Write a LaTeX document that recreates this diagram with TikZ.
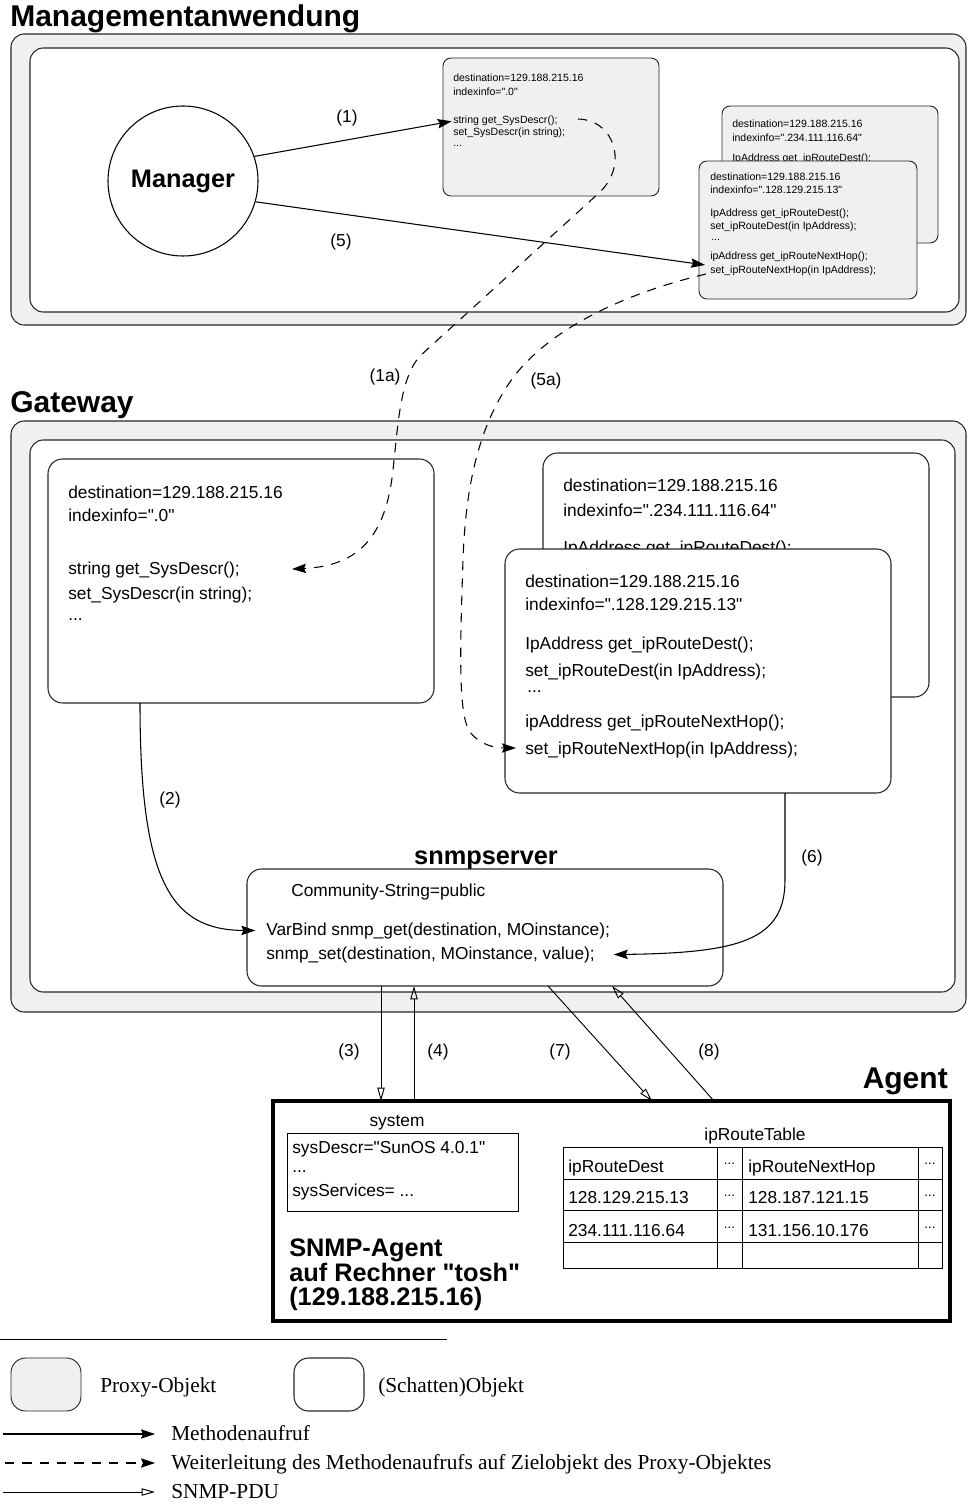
\documentclass[tikz,border=0pt]{standalone}
\usepackage{fontspec}
\setmainfont{Liberation Sans}
\newfontfamily\serifface{Liberation Serif}
\usetikzlibrary{arrows.meta,fit}
\definecolor{pgray}{RGB}{240,240,240}
% straight double quote
\newcommand{\dq}{\textquotedbl}

\begin{document}
\begin{tikzpicture}[x=0.75pt,y=-0.75pt,
  panel/.style={draw=black!85, fill=pgray, rounded corners=10pt, inner sep=0pt, outer sep=0pt, line width=0.8pt},
  area/.style={draw=black!85, fill=white, rounded corners=10pt, inner sep=0pt, outer sep=0pt, line width=0.8pt},
  pobj/.style={draw=black!85, fill=pgray, rounded corners=6pt, inner sep=0pt, outer sep=0pt, line width=0.7pt},
  sobj/.style={draw=black!85, fill=white, rounded corners=11pt, inner sep=0pt, outer sep=0pt, line width=0.8pt},
  small/.style={font=\fontsize{7.9}{9}\selectfont, inner sep=0pt, anchor=base west},
  txt/.style={font=\fontsize{13}{15}\selectfont, inner sep=0pt, anchor=base west},
  lbl/.style={font=\fontsize{13}{15}\selectfont, inner sep=0pt},
  dots/.style={font=\fontsize{10}{12}\selectfont, inner sep=0pt},
  heading/.style={font=\fontsize{22.5}{26}\selectfont\bfseries, inner sep=0pt, anchor=base west},
  bold/.style={font=\fontsize{19}{25}\selectfont\bfseries, inner sep=0pt},
  call/.style={-{Stealth[length=10.5pt,width=7pt,inset=1.5pt]}, line width=0.8pt},
  fwd/.style={call, dash pattern=on 7pt off 6pt},
  pdu/.style={-{Triangle[open,length=10pt,width=5.5pt]}, line width=0.7pt},
  legend/.style={font=\serifface\fontsize{16}{19}\selectfont, inner sep=0pt, anchor=base west},
  thin/.style={line width=0.7pt},
]
\useasboundingbox (0,0) rectangle (967,1508);

% ---------------- Managementanwendung ----------------
\node[heading] (hmgmt) at (10,27) {Managementanwendung};
\node[panel, fit={(11,34)(966,325)}] (mgmt) {};
\node[area, fit={(30,48)(959,312)}] (mgmtin) {};

\node[draw, circle, minimum size=112.5pt, inner sep=0pt, line width=0.8pt, fill=white,
      font=\fontsize{19}{25}\selectfont\bfseries] (mgr) at (183,181) {Manager};

% proxy for system group
\node[pobj, fit={(443,58)(659,196)}] (p1) {};
\node[small] (p1d) at (453,82) {destination=129.188.215.16};
\node[small] (p1i) at (453,96) {indexinfo=\dq.0\dq};
\node[small] (p1g) at (453,124) {string get\_SysDescr();};
\node[small] (p1s) at (453,136) {set\_SysDescr(in string);};
\node[small] (p1e) at (453,147) {...};

% proxies for route table rows
\node[pobj, fit={(722,106)(938,243)}] (p2) {};
\node[small] (p2d) at (732,128) {destination=129.188.215.16};
\node[small] (p2i) at (732,142) {indexinfo=\dq.234.111.116.64\dq};
\node[small] (p2g) at (732,162) {IpAddress get\_ipRouteDest();};
\node[pobj, fit={(699,161)(917,299)}] (p3) {};
\node[small] (p3d) at (710,181) {destination=129.188.215.16};
\node[small] (p3i) at (710,194) {indexinfo=\dq.128.129.215.13\dq};
\node[small] (p3g) at (710,217) {IpAddress get\_ipRouteDest();};
\node[small] (p3s) at (710,230) {set\_ipRouteDest(in IpAddress);};
\node[small] (p3e) at (711,241) {...};
\node[small] (p3n) at (710,260) {ipAddress get\_ipRouteNextHop();};
\node[small] (p3m) at (710,274) {set\_ipRouteNextHop(in IpAddress);};

% ---------------- Gateway ----------------
\node[heading] (hgw) at (10,412) {Gateway};
\node[panel, fit={(11,421)(966,1012)}] (gw) {};
\node[area, fit={(30,440)(955,992)}] (gwin) {};

\node[sobj, fit={(48,459)(434,703)}] (gA) {};
\node[txt] (gAd) at (68,498) {destination=129.188.215.16};
\node[txt] (gAi) at (68,521) {indexinfo=\dq.0\dq};
\node[txt] (gAg) at (68,574) {string get\_SysDescr();};
\node[txt] (gAs) at (68,599) {set\_SysDescr(in string);};
\node[txt] (gAe) at (68,620) {...};

\node[sobj, fit={(543,453)(929,697)}] (gB) {};
\node[txt] (gBd) at (563,491) {destination=129.188.215.16};
\node[txt] (gBi) at (563,516) {indexinfo=\dq.234.111.116.64\dq};
\node[txt] (gBg) at (563,553) {IpAddress get\_ipRouteDest();};

\node[sobj, fit={(505,549)(891,793)}] (gC) {};
\node[txt] (gCd) at (525,587) {destination=129.188.215.16};
\node[txt] (gCi) at (525,610) {indexinfo=\dq.128.129.215.13\dq};
\node[txt] (gCg) at (525,649) {IpAddress get\_ipRouteDest();};
\node[txt] (gCs) at (525,676) {set\_ipRouteDest(in IpAddress);};
\node[txt] (gCe) at (527,692) {...};
\node[txt] (gCn) at (525,727) {ipAddress get\_ipRouteNextHop();};
\node[txt] (gCm) at (525,754) {set\_ipRouteNextHop(in IpAddress);};

\node[bold, anchor=base] (snmpt) at (486,864) {snmpserver};
\node[sobj, fit={(247,869)(723,986)}] (snmp) {};
\node[txt] (scom) at (291,896) {Community-String=public};
\node[txt] (sget) at (266,935) {VarBind snmp\_get(destination, MOinstance);};
\node[txt] (sset) at (266,959) {snmp\_set(destination, MOinstance, value);};

% ---------------- Agent ----------------
\node[heading, anchor=base east] (hag) at (948,1088) {Agent};
\node[draw, line width=3pt, fit={(273,1101)(950,1321)}, inner sep=0pt, outer sep=0pt] (agent) {};

\node[txt, anchor=base] (sysl) at (397,1126) {system};
\node[draw, thin, fit={(287,1133)(518,1211)}, inner sep=0pt, outer sep=0pt] (sysbox) {};
\node[txt] (sys1) at (292,1153) {sysDescr=\dq SunOS 4.0.1\dq};
\node[txt] (sys2) at (292,1172) {...};
\node[txt] (sys3) at (292,1196) {sysServices= ...};

\node[txt, anchor=base] (rtl) at (755,1140) {ipRouteTable};
\node[draw, thin, fit={(563,1147)(942,1268)}, inner sep=0pt, outer sep=0pt] (rt) {};
\foreach \yy in {1179,1210,1242} \draw[thin] (563,\yy) -- (942,\yy);
\foreach \xx in {717,742,918} \draw[thin] (\xx,1147) -- (\xx,1268);
\node[txt] (rh1) at (568,1172) {ipRouteDest};
\node[txt] (rh2) at (748,1172) {ipRouteNextHop};
\node[txt] (ra1) at (568,1203) {128.129.215.13};
\node[txt] (ra2) at (748,1203) {128.187.121.15};
\node[txt] (rb1) at (568,1236) {234.111.116.64};
\node[txt] (rb2) at (748,1236) {131.156.10.176};
\foreach \yy/\nm in {1164/h,1196/a,1228/b} {
  \node[dots] (rd\nm1) at (729.5,\yy) {...};
  \node[dots] (rd\nm2) at (930,\yy) {...};
}

\node[bold, anchor=base west] (ag1) at (289,1256) {SNMP-Agent};
\node[bold, anchor=base west] (ag2) at (289,1281) {auf Rechner \dq tosh\dq};
\node[bold, anchor=base west] (ag3) at (289,1305) {(129.188.215.16)};

% ---------------- Connectors ----------------
\coordinate (tip5) at (705,265);
\coordinate (s1a) at (578,119);
\coordinate (tip1a) at (292,569);
\coordinate (s5a) at (706,274);
\coordinate (tip5a) at (516,748);

\draw[call] (mgr.19) -- ([xshift=-1pt]p1g.west);
\node[lbl] (l1) at (347,118) {(1)};
\draw[call] (mgr.-16) -- (tip5);
\node[lbl] (l5) at (341,242) {(5)};

\draw[fwd] (s1a) .. controls (615,120) and (628,165) .. (600,192) -- (420,356)
  .. controls (400,378) and (398,425) .. (393,470)
  .. controls (386,535) and (360,566) .. (tip1a);
\node[lbl] (l1a) at (385,377) {(1a)};

\draw[fwd] (s5a) .. controls (630,292) and (555,325) .. (515,375)
  .. controls (485,415) and (466,470) .. (463,560)
  .. controls (460,650) and (458,715) .. (470,732)
  .. controls (480,745) and (495,748) .. (tip5a);
\node[lbl] (l5a) at (546,381) {(5a)};

\draw[call] (gA.south -| 140,0) .. controls (140,880) and (170,930) .. ([xshift=-8pt]sget.west);
\node[lbl] (l2) at (170,800) {(2)};
\draw[call] (gC.south -| 785,0) -- (785,880) .. controls (785,940) and (740,953) .. ([xshift=14pt]sset.east);
\node[lbl] (l6) at (812,858) {(6)};

\draw[pdu] (snmp.south -| 381,0) -- (agent.north -| 381,0);
\draw[pdu] (agent.north -| 414,0) -- (snmp.south -| 414,0);
\draw[pdu] (snmp.south -| 548,0) -- (agent.north -| 652,0);
\draw[pdu] (agent.north -| 714,0) -- (snmp.south -| 612,0);
\node[lbl] (l3) at (349,1052) {(3)};
\node[lbl] (l4) at (438,1052) {(4)};
\node[lbl] (l7) at (560,1052) {(7)};
\node[lbl] (l8) at (709,1052) {(8)};

% ---------------- Legend ----------------
\coordinate (sepa) at (0,1339);
\coordinate (sepb) at (447,1339);
\draw[thin] (sepa) -- (sepb);
\node[pobj, rounded corners=11pt, fit={(11,1358)(81,1411)}] (lgp) {};
\node[legend] (lgpt) at (100,1392) {Proxy-Objekt};
\node[sobj, fit={(294,1358)(364,1411)}] (lgs) {};
\node[legend] (lgst) at (378,1392) {(Schatten)Objekt};

\coordinate (lma) at (3,1434);   \coordinate (lmb) at (155,1434);
\coordinate (lfa) at (5,1463);   \coordinate (lfb) at (155,1463);
\coordinate (lpa) at (3,1492);   \coordinate (lpb) at (155,1492);
\draw[call] (lma) -- (lmb);
\draw[fwd] (lfa) -- (lfb);
\draw[pdu] (lpa) -- (lpb);
\node[legend] (lmt) at (171,1440) {Methodenaufruf};
\node[legend] (lft) at (171,1469) {Weiterleitung des Methodenaufrufs auf Zielobjekt des Proxy-Objektes};
\node[legend] (lpt) at (171,1498) {SNMP-PDU};
\end{tikzpicture}
\end{document}
